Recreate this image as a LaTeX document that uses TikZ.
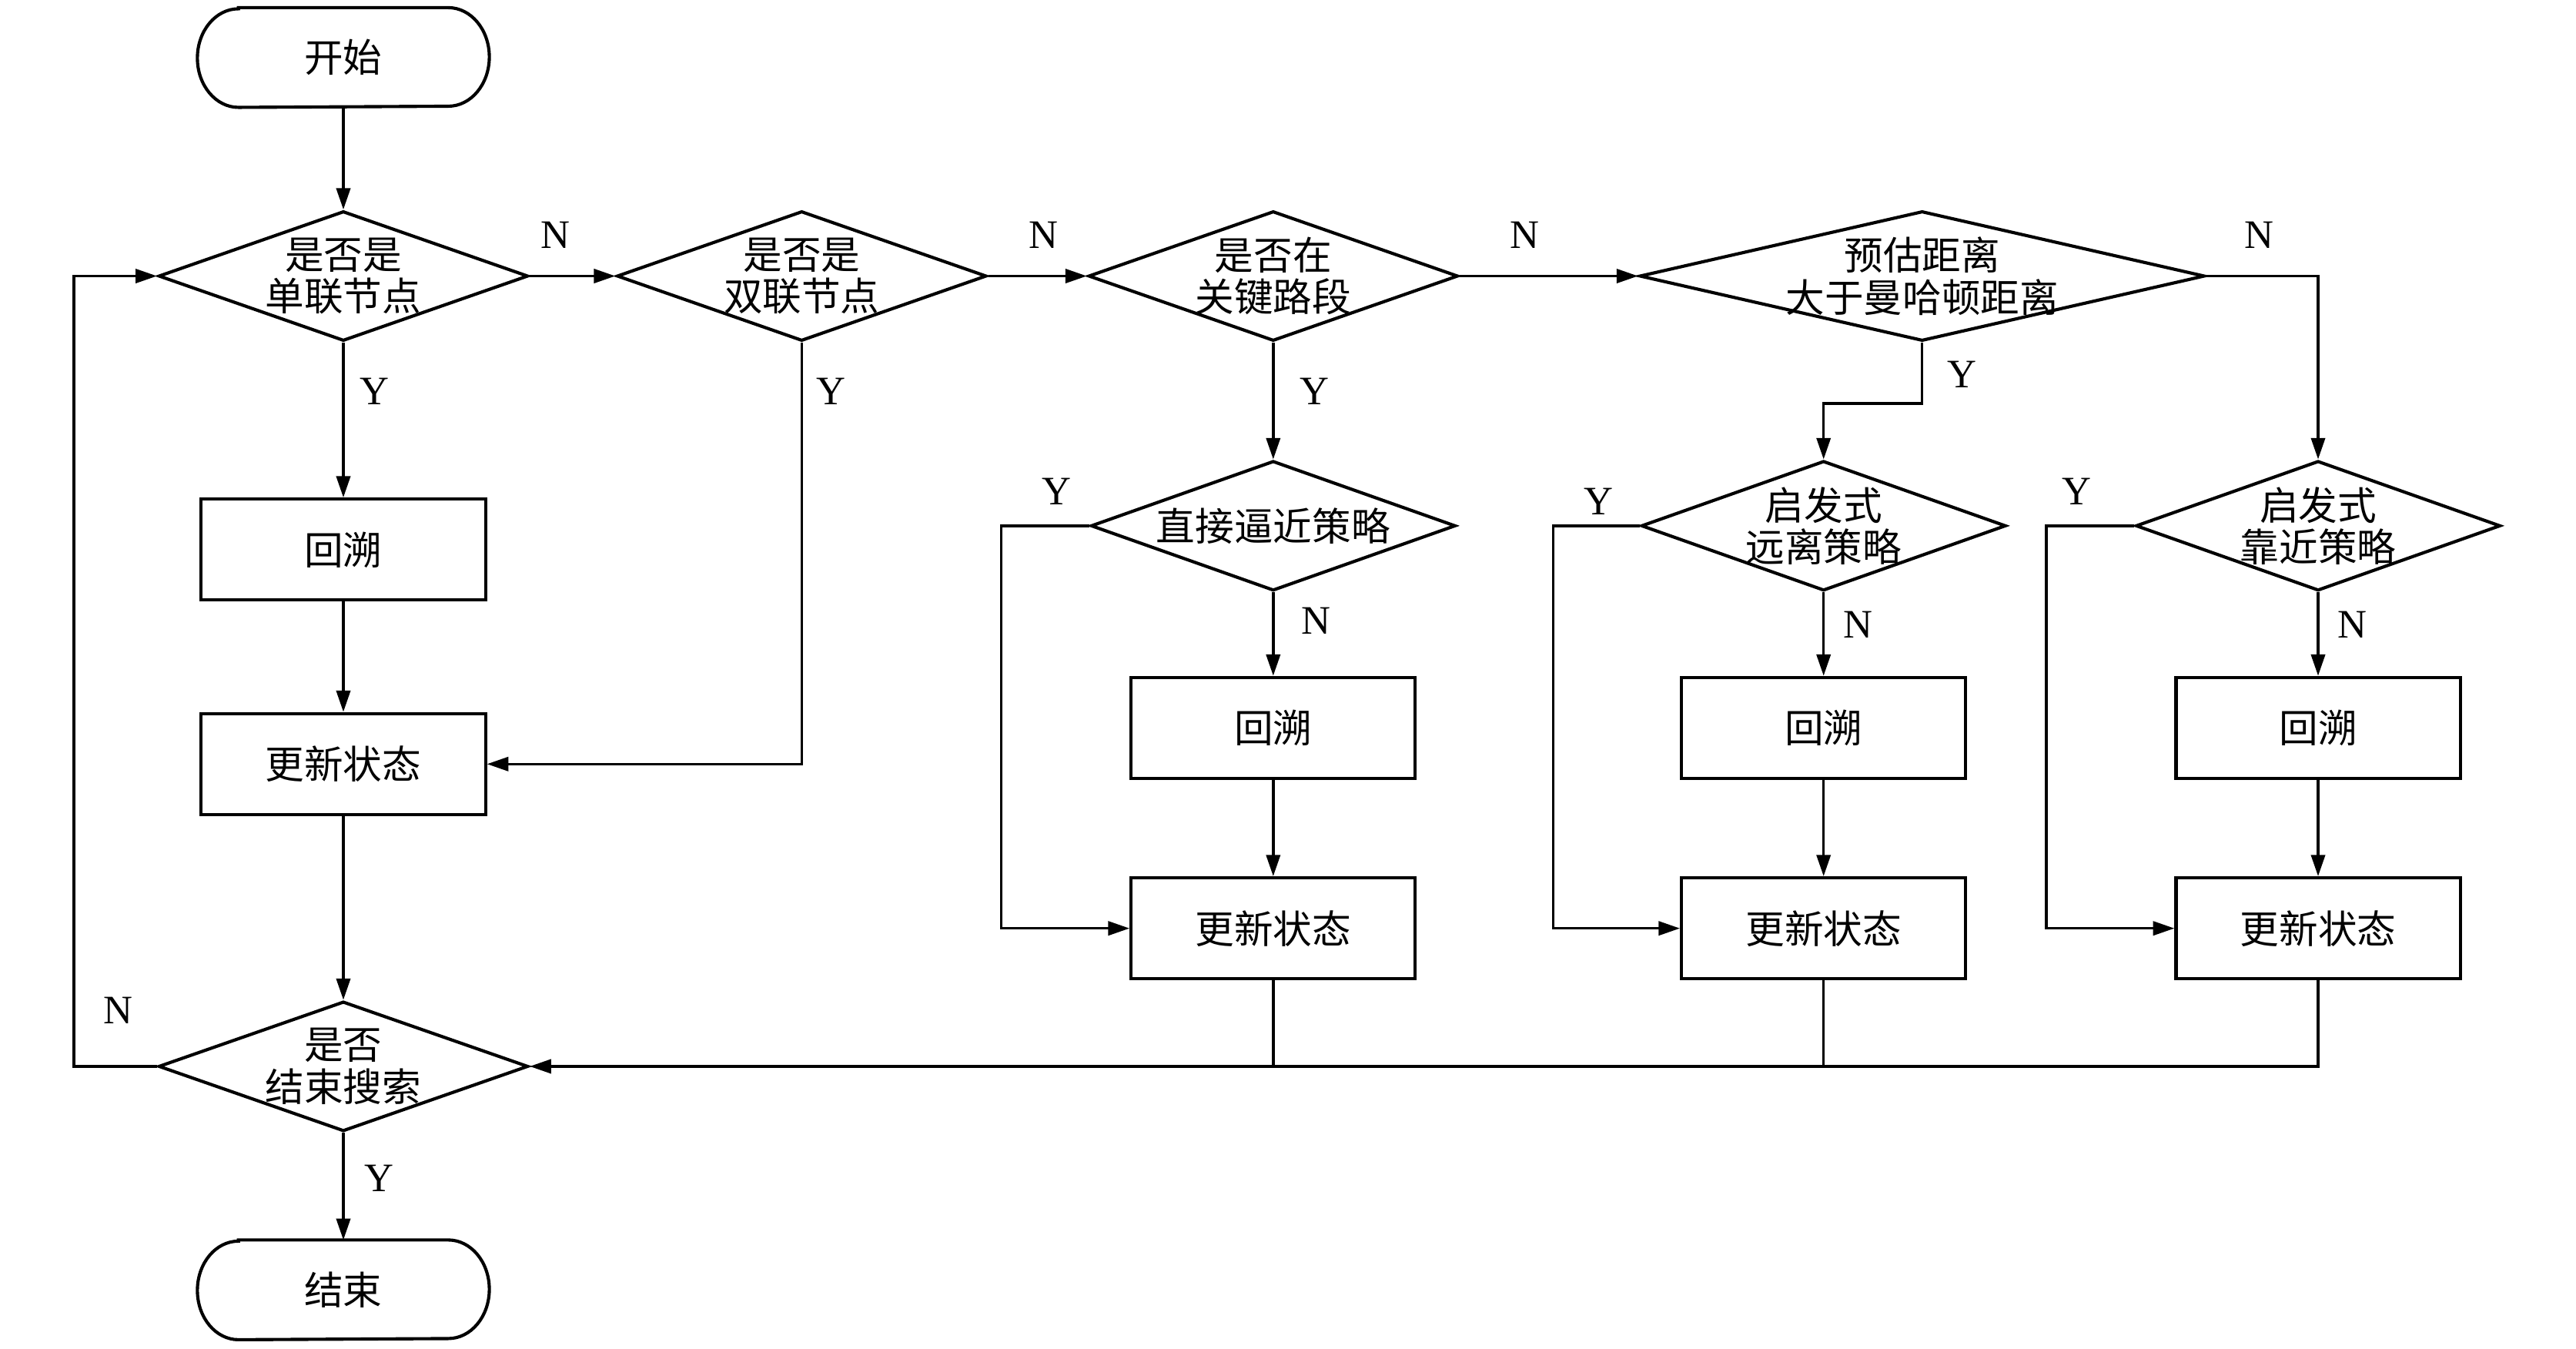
\documentclass[tikz,border=0pt]{standalone}
\usepackage{fontspec}
\setmainfont{Liberation Serif}
\newfontfamily\cjk{Noto Sans CJK SC}
\usepackage{tikz}
\usetikzlibrary{shapes.geometric}
\usetikzlibrary{positioning}
\usetikzlibrary{calc}
\usetikzlibrary{arrows.meta}
\pgfdeclarelayer{nodelayer}
\pgfdeclarelayer{edgelayer}
\pgfsetlayers{edgelayer,nodelayer,main}
\tikzset{box/.style={draw=black, line width=1.1pt, minimum width=3.46cm, minimum height=1.23cm,
text centered, inner sep=0pt, font=\cjk\fontsize{13.5}{14.5}\selectfont}}
\tikzset{term/.style={minimum width=3.54cm, minimum height=1.2cm, inner sep=0pt,
font=\cjk\fontsize{13.5}{14.5}\selectfont}}
\tikzset{dec/.style={shape=diamond, draw=black, line width=1.1pt, inner sep=0pt,
minimum height=1.58cm}}
\tikzset{dectxt/.style={inner sep=0pt, align=center, font=\cjk\fontsize{13.5}{14.5}\selectfont}}
\tikzset{lab/.style={inner sep=0pt, font=\fontsize{14}{14}\selectfont}}
\tikzset{arrow/.style={line width=0.9pt, -{Triangle[length=2.6mm, width=1.7mm]}}}
\tikzset{line/.style={line width=0.9pt}}

\begin{document}
\begin{tikzpicture}
	\useasboundingbox (0,0) rectangle (31.36,-16.42);
	\begin{pgfonlayer}{nodelayer}
		\node [style=term] (0) at (4.18, -0.70) {开始};
		\node [style=dec, minimum width=4.5cm] (1) at (4.18, -3.36) {};
		\node [style=dec, minimum width=4.5cm] (2) at (9.76, -3.36) {};
		\node [style=dec, minimum width=4.5cm] (3) at (15.5, -3.36) {};
		\node [style=dec, minimum width=6.88cm] (4) at (23.4, -3.36) {};
		\node [style=box] (5) at (4.18, -6.69) {回溯};
		\node [style=box] (6) at (4.18, -9.30) {更新状态};
		\node [style=dec, minimum width=4.44cm] (7) at (15.5, -6.40) {};
		\node [style=dec, minimum width=4.44cm] (8) at (22.2, -6.40) {};
		\node [style=dec, minimum width=4.44cm] (9) at (28.22, -6.40) {};
		\node [style=box] (10) at (15.5, -8.86) {回溯};
		\node [style=box] (11) at (22.2, -8.86) {回溯};
		\node [style=box] (12) at (28.22, -8.86) {回溯};
		\node [style=box] (13) at (15.5, -11.30) {更新状态};
		\node [style=box] (14) at (22.2, -11.30) {更新状态};
		\node [style=box] (15) at (28.22, -11.30) {更新状态};
		\node [style=dec, minimum width=4.5cm] (16) at (4.18, -12.98) {};
		\node [style=term] (17) at (4.18, -15.70) {结束};
		% texts of the decisions
		\node [style=dectxt] (1t) at (1) {是否是\\单联节点};
		\node [style=dectxt] (2t) at (2) {是否是\\双联节点};
		\node [style=dectxt] (3t) at (3) {是否在\\关键路段};
		\node [style=dectxt] (4t) at (4) {预估距离\\大于曼哈顿距离};
		\node [style=dectxt] (7t) at (7) {直接逼近策略};
		\node [style=dectxt] (8t) at (8) {启发式\\远离策略};
		\node [style=dectxt] (9t) at (9) {启发式\\靠近策略};
		\node [style=dectxt] (16t) at (16) {是否\\结束搜索};
		% branch labels
		\node [style=lab] (n1) at (6.76, -2.86) {N};
		\node [style=lab] (n2) at (12.70, -2.86) {N};
		\node [style=lab] (n3) at (18.56, -2.86) {N};
		\node [style=lab] (n4) at (27.5, -2.86) {N};
		\node [style=lab] (y1) at (4.56, -4.76) {Y};
		\node [style=lab] (y2) at (10.12, -4.76) {Y};
		\node [style=lab] (y3) at (16.0, -4.76) {Y};
		\node [style=lab] (y4) at (23.88, -4.56) {Y};
		\node [style=lab] (y5) at (12.86, -5.98) {Y};
		\node [style=lab] (y6) at (19.46, -6.10) {Y};
		\node [style=lab] (y7) at (25.28, -5.98) {Y};
		\node [style=lab] (n5) at (16.02, -7.56) {N};
		\node [style=lab] (n6) at (22.62, -7.60) {N};
		\node [style=lab] (n7) at (28.64, -7.60) {N};
		\node [style=lab] (n8) at (1.44, -12.30) {N};
		\node [style=lab] (y8) at (4.62, -14.34) {Y};
		\coordinate (lp) at (0.9, 0);
	\end{pgfonlayer}
	\begin{pgfonlayer}{edgelayer}
		\foreach \t in {0,17}
			\draw [line width=1.1pt] ([xshift=.5cm]\t.north west) -- ([xshift=-.5cm]\t.north east)
				arc [start angle=90, end angle=-90, x radius=.5cm, y radius=.6cm]
				-- ([xshift=.5cm]\t.south west)
				arc [start angle=270, end angle=90, x radius=.5cm, y radius=.6cm] -- cycle;
		\draw [style=arrow] (0) to (1);
		\draw [style=arrow] (1) to (2);
		\draw [style=arrow] (2) to (3);
		\draw [style=arrow] (3) to (4);
		\draw [style=arrow] (1) to (5);
		\draw [style=arrow] (5) to (6);
		\draw [style=arrow] (6) to (16);
		\draw [style=arrow] (16) to (17);
		\draw [style=arrow] (2.south) |- (6.east);
		\draw [style=arrow] (3) to (7);
		\draw [style=arrow] (4.south) -- ++(0, -0.74) -| (8.north);
		\draw [style=arrow] (4.east) -| (9.north);
		\draw [style=arrow] (7) to (10);
		\draw [style=arrow] (8) to (11);
		\draw [style=arrow] (9) to (12);
		\draw [style=arrow] (10) to (13);
		\draw [style=arrow] (11) to (14);
		\draw [style=arrow] (12) to (15);
		\draw [style=arrow] (7.west) -- ++(-1.07, 0) |- (13.west);
		\draw [style=arrow] (8.west) -- ++(-1.05, 0) |- (14.west);
		\draw [style=arrow] (9.west) -- ++(-1.07, 0) |- (15.west);
		\draw [style=arrow] (15.south) |- (16.east);
		\draw [style=line] (13.south) -- (13.south |- 16.east);
		\draw [style=line] (14.south) -- (14.south |- 16.east);
		\draw [style=arrow] (16.west) -- (16.west -| lp) |- (1.west);
	\end{pgfonlayer}
\end{tikzpicture}
\end{document}
